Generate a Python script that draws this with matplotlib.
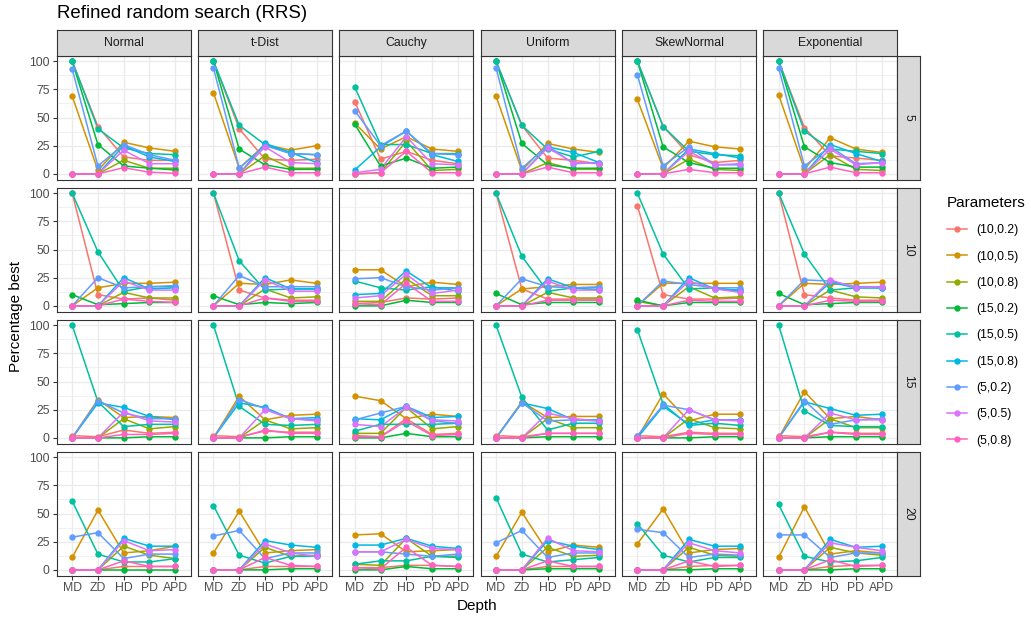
import matplotlib.pyplot as plt
from matplotlib.lines import Line2D
from matplotlib.ticker import FixedLocator

plt.rcParams['font.family'] = ['Liberation Sans', 'DejaVu Sans']

depths = ['MD', 'ZD', 'HD', 'PD', 'APD']
distributions = ['Normal', 't-Dist', 'Cauchy', 'Uniform', 'SkewNormal', 'Exponential']
sizes = ['5', '10', '15', '20']
params = ['(10,0.2)', '(10,0.5)', '(10,0.8)', '(15,0.2)', '(15,0.5)',
          '(15,0.8)', '(5,0.2)', '(5,0.5)', '(5,0.8)']
colors = ['#F8766D', '#D39200', '#93AA00', '#00BA38', '#00C19F',
          '#00B9E3', '#619CFF', '#DB72FB', '#FF61C3']

# one list per parameter combo, values for MD, ZD, HD, PD, APD
normal_5 = [[100, 42, 15, 12, 12], [69, 3, 28, 23, 20], [0, 0, 12, 5, 5],
            [100, 26, 7, 5, 3.5], [100, 40, 23, 18, 17], [0, 0, 25, 15, 11],
            [93, 7, 26, 17, 12], [0, 0, 21, 9, 9], [0, 0, 5.5, 1.5, 0.5]]
tdist_5 = [[100, 40, 13, 12, 13], [72, 5, 26, 21, 25], [0, 0, 16, 5, 5],
           [100, 22, 8, 4, 4], [100, 43, 26, 18, 17], [0, 0, 27, 19, 10],
           [94, 5, 25, 18, 17], [0, 0, 24, 10, 9], [0, 0, 6, 1, 1]]
cauchy_5 = [[64, 13, 20, 12, 9], [45, 22, 33, 22, 20], [0, 1, 29, 3, 4],
            [44, 7, 14, 5, 6], [77, 26, 26, 18, 18], [3.5, 24, 38, 17, 11],
            [56, 25, 38, 18, 17], [1, 4, 33, 9, 8], [0, 1, 20, 1, 1]]
uniform_5 = [[100, 43, 14, 12, 9], [69, 3, 27, 22, 19], [0, 0, 10, 4, 4],
             [100, 27, 8, 5, 5], [100, 43, 22, 15, 20], [0, 0, 24, 19, 10],
             [94, 5, 25, 9, 10], [0, 0, 23, 10, 9], [0, 0, 6, 1, 1]]
skew_5 = [[100, 42, 17, 10, 12], [66, 5, 29, 24, 22], [0, 0, 13, 4, 3],
          [100, 24, 10, 5, 5], [100, 42, 20, 17, 16], [0, 0, 22, 18, 14],
          [88, 7, 24, 8, 8], [0, 0, 20, 8, 9], [0, 0, 4, 1, 1]]
expo_5 = [[100, 41, 16, 14, 12], [70, 4, 32, 22, 19], [0, 0, 17, 4, 3],
          [100, 24, 10, 6, 6], [100, 38, 22, 20, 18], [0, 0, 26, 18, 11],
          [94, 7, 24, 9, 10], [0, 0, 22, 8, 10], [0, 0, 6, 1, 1]]

normal_10 = [[100, 10, 6, 7, 5], [0, 16, 20, 20, 21], [0, 0, 12, 7, 7],
             [10, 1, 2, 3, 3], [100, 48, 13, 17, 17], [0, 0, 25, 15, 16],
             [0, 25, 16, 17, 18], [0, 0, 22, 14, 14], [0, 0, 6, 4, 3]]
tdist_10 = [[100, 14, 7, 5, 5], [0, 20, 19, 23, 20], [0, 0, 15, 7, 8],
            [9, 1, 3, 2, 3], [100, 40, 14, 15, 15], [0, 0, 25, 15, 15],
            [0, 27, 17, 17, 17], [0, 0, 23, 13, 13], [0, 0, 7, 4, 4]]
cauchy_10 = [[2, 3, 7, 6, 7], [32, 32, 17, 21, 19], [4, 4, 24, 9, 9],
             [0, 0, 5, 3, 3], [22, 16, 14, 17, 13], [10, 11, 31, 16, 16],
             [24, 25, 17, 14, 16], [7, 9, 28, 11, 14], [2, 1, 20, 4, 4]]
uniform_10 = [[100, 15, 6, 6, 6], [0, 15, 17, 19, 19], [0, 0, 12, 7, 7],
              [11, 1, 3, 3, 3], [100, 44, 13, 16, 14], [0, 0, 24, 16, 16],
              [0, 24, 17, 16, 17], [0, 0, 22, 14, 14], [0, 0, 5, 5, 5]]
skew_10 = [[89, 10, 6, 6, 7], [0, 20, 20, 20, 20], [4, 0, 17, 7, 8],
           [5, 0, 3, 3, 3], [100, 46, 15, 16, 13], [0, 0, 25, 15, 14],
           [0, 22, 19, 16, 16], [0, 0, 22, 15, 12], [0, 0, 5, 4, 4]]
expo_10 = [[100, 10, 7, 5, 5], [0, 20, 19, 20, 21], [0, 0, 14, 8, 7],
           [11, 1, 2, 3, 3], [100, 46, 14, 16, 16], [0, 0, 21, 16, 16],
           [0, 23, 22, 17, 17], [0, 0, 23, 16, 17], [0, 0, 5, 4, 4]]

normal_15 = [[2, 1, 7, 4, 5], [0, 34, 18, 19, 18], [0, 0, 17, 8, 10],
             [0, 0, 0, 1, 1], [100, 32, 10, 12, 12], [0, 31, 27, 19, 16],
             [0, 33, 22, 17, 17], [0, 0, 23, 15, 14], [0, 0, 3, 3, 4]]
tdist_15 = [[2, 1, 6, 5, 5], [0, 37, 16, 20, 21], [0, 0, 16, 8, 9],
            [0, 0, 0, 1, 1], [100, 28, 12, 11, 12], [0, 31, 27, 17, 18],
            [0, 34, 26, 17, 16], [0, 0, 25, 17, 15], [0, 0, 7, 4, 4]]
cauchy_15 = [[2, 1, 17, 3, 4], [37, 33, 17, 21, 19], [4, 4, 27, 8, 10],
             [0, 0, 4, 1, 1], [6, 12, 12, 12, 13], [17, 16, 28, 18, 19],
             [16, 22, 28, 15, 13], [12, 10, 27, 16, 15], [1, 1, 15, 2, 3]]
uniform_15 = [[2, 1, 4, 4, 4], [0, 32, 18, 19, 19], [0, 0, 17, 9, 9],
              [0, 0, 1, 1, 1], [100, 36, 7, 13, 13], [0, 31, 26, 16, 16],
              [0, 31, 15, 16, 15], [0, 0, 22, 17, 15], [0, 0, 4, 4, 4]]
skew_15 = [[2, 1, 5, 4, 4], [0, 39, 15, 21, 21], [0, 0, 17, 9, 8],
           [0, 0, 0, 1, 1], [96, 30, 11, 13, 11], [0, 28, 12, 16, 16],
           [2, 29, 25, 16, 16], [0, 0, 25, 16, 15], [0, 0, 4, 3, 3]]
expo_15 = [[2, 1, 5, 4, 4], [0, 41, 17, 19, 16], [0, 0, 17, 9, 9],
           [0, 0, 1, 1, 1], [100, 24, 11, 10, 10], [0, 32, 26, 20, 21],
           [0, 33, 12, 16, 17], [0, 0, 22, 16, 16], [0, 0, 5, 3, 3]]

normal_20 = [[0, 0, 3, 3, 3], [11, 53, 15, 17, 21], [0, 0, 21, 13, 10],
             [0, 0, 0, 0, 0], [61, 14, 7, 7, 10], [0, 0, 28, 21, 21],
             [29, 33, 10, 14, 14], [0, 0, 26, 17, 18], [0, 0, 8, 3, 3]]
tdist_20 = [[0, 0, 3, 3, 3], [15, 52, 15, 17, 18], [0, 0, 20, 12, 13],
            [0, 0, 0, 1, 1], [57, 13, 6, 12, 12], [0, 0, 26, 22, 20],
            [30, 35, 10, 15, 15], [0, 0, 23, 15, 12], [0, 0, 11, 4, 3]]
cauchy_20 = [[2, 2, 4, 4, 3], [31, 32, 16, 17, 18], [5, 4, 28, 12, 12],
             [0, 0, 3, 1, 1], [5, 8, 8, 12, 11], [22, 22, 28, 21, 19],
             [16, 16, 14, 12, 14], [16, 16, 27, 19, 18], [2, 1, 20, 4, 3]]
uniform_20 = [[0, 0, 3, 3, 3], [12, 51, 16, 22, 20], [0, 0, 20, 12, 13],
              [0, 0, 1, 1, 1], [64, 14, 7, 9, 11], [0, 0, 26, 21, 18],
              [24, 35, 11, 15, 15], [0, 0, 28, 17, 16], [0, 0, 8, 3, 3]]
skew_20 = [[0, 0, 3, 4, 4], [23, 54, 15, 18, 19], [0, 0, 20, 13, 12],
           [0, 0, 0, 1, 1], [41, 13, 7, 11, 11], [0, 0, 27, 21, 21],
           [36, 33, 11, 14, 13], [0, 0, 24, 17, 15], [0, 0, 8, 3, 4]]
expo_20 = [[0, 0, 3, 4, 4], [11, 56, 14, 17, 15], [0, 0, 20, 15, 13],
           [0, 0, 0, 1, 1], [58, 12, 7, 8, 11], [0, 0, 27, 20, 21],
           [31, 31, 11, 15, 15], [0, 0, 24, 20, 17], [0, 0, 9, 3, 4]]

panels = {
    '5': [normal_5, tdist_5, cauchy_5, uniform_5, skew_5, expo_5],
    '10': [normal_10, tdist_10, cauchy_10, uniform_10, skew_10, expo_10],
    '15': [normal_15, tdist_15, cauchy_15, uniform_15, skew_15, expo_15],
    '20': [normal_20, tdist_20, cauchy_20, uniform_20, skew_20, expo_20],
}

W, H = 1031, 618
fig = plt.figure(figsize=(W / 100, H / 100), dpi=100)

left0, step_x, pw = 56.7, 141.3, 134
top0, step_y, ph = 55.5, 132, 124
strip_top, strip_h = 30, 25.5
rstrip_w = 22.5
dark = '#333333'


def frac(x, y, w, h):
    return [x / W, 1 - (y + h) / H, w / W, h / H]


def style_box(ax):
    for sp in ax.spines.values():
        sp.set_color(dark)
        sp.set_linewidth(0.8)


xs = list(range(len(depths)))
for i, size in enumerate(sizes):
    for j, dist in enumerate(distributions):
        px = left0 + j * step_x
        py = top0 + i * step_y
        ax = fig.add_axes(frac(px, py, pw, ph))
        vals = panels[size][j]
        # lines first, then points on top (like geom_line + geom_point)
        for k in range(len(params)):
            ax.plot(xs, vals[k], color=colors[k], lw=1.1, zorder=2)
        for k in range(len(params)):
            ax.plot(xs, vals[k], 'o', color=colors[k], ms=4.6, mew=0, zorder=3)
        ax.set_xlim(-0.6, 4.6)
        ax.set_ylim(-5, 105)
        ax.set_xticks(xs)
        ax.set_xticklabels(depths)
        ax.set_yticks([0, 25, 50, 75, 100])
        ax.yaxis.set_minor_locator(FixedLocator([12.5, 37.5, 62.5, 87.5]))
        ax.grid(which='major', color='#EBEBEB', lw=1.0)
        ax.grid(which='minor', axis='y', color='#EBEBEB', lw=0.5)
        ax.set_axisbelow(True)
        style_box(ax)
        ax.tick_params(which='major', length=3, width=0.8, color=dark,
                       labelsize=8.8, labelcolor='#4D4D4D', pad=2)
        ax.tick_params(which='minor', length=0)
        if j > 0:
            ax.tick_params(axis='y', left=False, labelleft=False)
        if i < len(sizes) - 1:
            ax.tick_params(axis='x', bottom=False, labelbottom=False)

        if i == 0:
            sax = fig.add_axes(frac(px, strip_top, pw, strip_h))
            sax.set_facecolor('#D9D9D9')
            sax.set_xticks([])
            sax.set_yticks([])
            style_box(sax)
            sax.text(0.5, 0.5, dist, ha='center', va='center',
                     fontsize=8.8, color='#1A1A1A', transform=sax.transAxes)
        if j == len(distributions) - 1:
            rax = fig.add_axes(frac(px + pw, py, rstrip_w, ph))
            rax.set_facecolor('#D9D9D9')
            rax.set_xticks([])
            rax.set_yticks([])
            style_box(rax)
            rax.text(0.5, 0.5, size, ha='center', va='center', rotation=-90,
                     fontsize=8.8, color='#1A1A1A', transform=rax.transAxes)

# titles
fig.text(57 / W, 1 - 14 / H, 'Refined random search (RRS)', fontsize=13.4,
         ha='left', va='center', color='black')
fig.text(16 / W, 1 - 316 / H, 'Percentage best', fontsize=11, rotation=90,
         ha='center', va='center')
fig.text(477 / W, 1 - 606 / H, 'Depth', fontsize=11, ha='center', va='center')

# legend
handles = [Line2D([0], [0], color=c, lw=1.1, marker='o', ms=4.6, mew=0)
           for c in colors]
fig.legend(handles, params, loc='upper left',
           bbox_to_anchor=(936 / W, 1 - 185 / H), frameon=False,
           title='Parameters', title_fontsize=11, fontsize=8.8,
           labelspacing=1.17, handlelength=1.6, handletextpad=0.8,
           alignment='left')

plt.savefig('out.png', dpi=100)
plt.close()
